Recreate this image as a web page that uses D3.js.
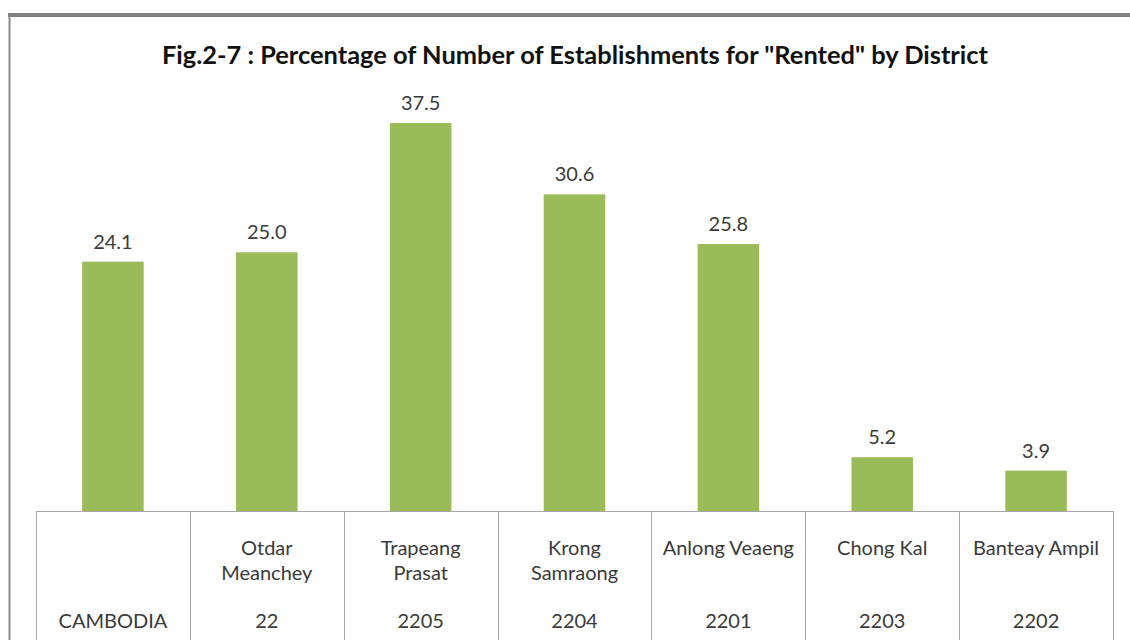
<!DOCTYPE html>
<html>
<head>
<meta charset="utf-8">
<script src="https://cdn.jsdelivr.net/npm/d3@7"></script>
<style>
  body { margin: 0; background: #fff; }
  svg { display: block; }
</style>
</head>
<body>
<svg id="chart" width="1130" height="640"></svg>
<script>
// data
var codes = ['CAMBODIA', '22', '2205', '2204', '2201', '2203', '2202'];
var names = ['', 'Otdar\nMeanchey', 'Trapeang\nPrasat', 'Krong\nSamraong', 'Anlong Veaeng', 'Chong Kal', 'Banteay Ampil'];
var values = [24.1, 25.0, 37.5, 30.6, 25.8, 5.2, 3.9];

var title = 'Fig.2-7 : Percentage of Number of Establishments for "Rented"  by District';

var left = 36, right = 1113;
var baseY = 511;
var font = 'Lato, "Open Sans", sans-serif';
var textCol = '#3a3a3a';
var gridCol = '#a6a6a6';

var svg = d3.select('#chart');

// outer frame
svg.append('line')
  .attr('x1', 8).attr('x2', 1130).attr('y1', 15).attr('y2', 15)
  .attr('stroke', '#808080').attr('stroke-width', 4);
svg.append('line')
  .attr('x1', 9.5).attr('x2', 9.5).attr('y1', 15).attr('y2', 640)
  .attr('stroke', '#8c8c8c').attr('stroke-width', 2);

// title (narrow like the original, so squeeze it)
svg.append('text')
  .attr('x', 575).attr('y', 64)
  .attr('text-anchor', 'middle')
  .attr('font-family', font)
  .attr('font-weight', 'bold')
  .attr('font-size', 24)
  .attr('fill', '#111')
  .attr('textLength', 826)
  .attr('lengthAdjust', 'spacingAndGlyphs')
  .text(title);

// scales
var cellScale = d3.scaleBand().domain(codes).range([left, right]);
var xScale = d3.scaleBand().domain(codes).range([left, right])
  .paddingInner(0.6).paddingOuter(0.3);
var yScale = d3.scaleLinear().domain([0, 37.5]).range([baseY, 123]);

// bars
svg.append('g').selectAll('rect')
  .data(values)
  .enter().append('rect')
  .attr('x', function(d, i){ return xScale(codes[i]); })
  .attr('width', xScale.bandwidth())
  .attr('y', function(d){ return yScale(d); })
  .attr('height', function(d){ return baseY - yScale(d); })
  .attr('fill', '#9bbb59');

// value labels
svg.append('g').selectAll('text')
  .data(values)
  .enter().append('text')
  .attr('x', function(d, i){ return xScale(codes[i]) + xScale.bandwidth() / 2; })
  .attr('y', function(d){ return yScale(d) - 13; })
  .attr('text-anchor', 'middle')
  .attr('font-family', font)
  .attr('font-size', 20)
  .attr('fill', textCol)
  .text(function(d){ return d.toFixed(1); });

// table grid
var grid = svg.append('g').attr('stroke', gridCol).attr('stroke-width', 1);
grid.append('line')
  .attr('x1', left).attr('x2', right).attr('y1', baseY + 0.5).attr('y2', baseY + 0.5);
var edges = codes.map(function(c){ return cellScale(c); }).concat([right]);
grid.selectAll('line.v')
  .data(edges)
  .enter().append('line')
  .attr('class', 'v')
  .attr('x1', function(d){ return Math.round(d) + 0.5; })
  .attr('x2', function(d){ return Math.round(d) + 0.5; })
  .attr('y1', baseY).attr('y2', 640);

// table text
var cx = function(i){ return cellScale(codes[i]) + cellScale.bandwidth() / 2; };

var nameG = svg.append('g');
names.forEach(function(n, i){
  var t = nameG.append('text')
    .attr('x', cx(i)).attr('y', 555)
    .attr('text-anchor', 'middle')
    .attr('font-family', font)
    .attr('font-size', 20)
    .attr('fill', textCol);
  n.split('\n').forEach(function(line, j){
    t.append('tspan').attr('x', cx(i)).attr('dy', j === 0 ? 0 : 25).text(line);
  });
});

svg.append('g').selectAll('text')
  .data(codes)
  .enter().append('text')
  .attr('x', function(d, i){ return cx(i); })
  .attr('y', 628)
  .attr('text-anchor', 'middle')
  .attr('font-family', font)
  .attr('font-size', 20)
  .attr('fill', textCol)
  .text(function(d){ return d; });
</script>
</body>
</html>
